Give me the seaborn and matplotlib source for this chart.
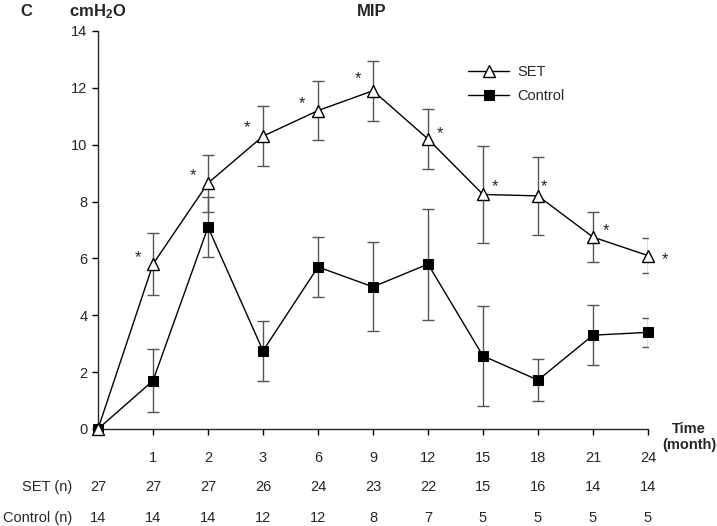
import numpy as np
import pandas as pd
import matplotlib
matplotlib.use("Agg")
import matplotlib.pyplot as plt
import matplotlib.transforms as mtransforms
import seaborn as sns

# values (MIP, cmH2O)
months = ["0", "1", "2", "3", "6", "9", "12", "15", "18", "21", "24"]
set_mean = [0, 5.8, 8.65, 10.3, 11.2, 11.9, 10.2, 8.25, 8.2, 6.75, 6.1]
set_err = [0, 1.08, 1.0, 1.05, 1.05, 1.05, 1.05, 1.7, 1.38, 0.87, 0.62]
ctrl_mean = [0, 1.7, 7.1, 2.75, 5.7, 5.0, 5.8, 2.57, 1.72, 3.3, 3.4]
ctrl_err = [0, 1.1, 1.05, 1.06, 1.05, 1.57, 1.95, 1.77, 0.74, 1.05, 0.52]
set_n = [27, 27, 27, 26, 24, 23, 22, 15, 16, 14, 14]
ctrl_n = [14, 14, 14, 12, 12, 8, 7, 5, 5, 5, 5]
# asterisk offsets (pixels) relative to the SET points
star_dx = [None, -15, -15, -16, -16, -15, 12, 12, 6, 13, 17]
star_dy = [None, 10, 11, 13, 11, 16, 9, 12, 13, 10, 0]

sns.set_style("ticks")
plt.rcParams["font.family"] = ["Liberation Sans", "DejaVu Sans"]
plt.rcParams["mathtext.fontset"] = "custom"
plt.rcParams["mathtext.rm"] = "Liberation Sans"
plt.rcParams["mathtext.bf"] = "Liberation Sans:bold"

df = pd.DataFrame({
    "pos": np.arange(len(months)),
    "SET": set_mean,
    "SET_err": set_err,
    "Control": ctrl_mean,
    "Control_err": ctrl_err,
})

fs = 10.5
W, H = 717, 526
fig = plt.figure(figsize=(W / 100, H / 100), dpi=100)
ax = fig.add_axes([98 / W, 1 - 429 / H, 550 / W, 398 / H])

err_color = "#555555"
ax.errorbar(df["pos"][1:], df["Control"][1:], yerr=df["Control_err"][1:], fmt="none",
            ecolor=err_color, elinewidth=1, capsize=4, capthick=1, zorder=2)
ax.errorbar(df["pos"][1:], df["SET"][1:], yerr=df["SET_err"][1:], fmt="none",
            ecolor=err_color, elinewidth=1, capsize=4, capthick=1, zorder=2)

sns.lineplot(data=df, x="pos", y="Control", ax=ax, color="black", linewidth=1,
             marker="s", markersize=7, markerfacecolor="black", markeredgecolor="black",
             label="Control", clip_on=False, zorder=3)
sns.lineplot(data=df, x="pos", y="SET", ax=ax, color="black", linewidth=1,
             marker="^", markersize=8, markerfacecolor="white", markeredgecolor="black",
             markeredgewidth=1, label="SET", clip_on=False, zorder=4)

for i in range(1, len(months)):
    ax.annotate("*", xy=(df["pos"][i], set_mean[i]), xytext=(star_dx[i], star_dy[i] - 4),
                textcoords="offset pixels", ha="center", va="center", fontsize=12)

ax.set_xlim(0, 10)
ax.set_ylim(0, 14)
ax.set_yticks(np.arange(0, 15, 2))
ax.set_xticks(df["pos"][1:])
ax.set_xticklabels(months[1:])
ax.tick_params(axis="both", labelsize=fs, length=4, width=1, color="black")
ax.tick_params(axis="x", pad=11.5)
ax.set_xlabel("")
ax.set_ylabel("")
sns.despine(ax=ax)
for s in ["left", "bottom"]:
    ax.spines[s].set_linewidth(1)

handles, labels = ax.get_legend_handles_labels()
ax.legend(handles[::-1], labels[::-1], loc="upper left", bbox_to_anchor=(0.673, 0.914),
          frameon=False, fontsize=fs, handlelength=2.8, handletextpad=0.6,
          labelspacing=0.65, borderaxespad=0, borderpad=0)

# n table under the axis
trans = mtransforms.blended_transform_factory(ax.transData, fig.transFigure)
for i in range(len(months)):
    ax.text(df["pos"][i], 1 - 487 / H, str(set_n[i]), transform=trans,
            ha="center", va="center", fontsize=fs)
    ax.text(df["pos"][i], 1 - 518 / H, str(ctrl_n[i]), transform=trans,
            ha="center", va="center", fontsize=fs)
fig.text(72 / W, 1 - 487 / H, "SET (n)", ha="right", va="center", fontsize=fs)
fig.text(72 / W, 1 - 518 / H, "Control (n)", ha="right", va="center", fontsize=fs)
fig.text(689 / W, 1 - 437 / H, "Time\n(month)", ha="center", va="center", fontsize=fs,
         fontweight="bold", linespacing=1.1)

fig.text(26 / W, 1 - 11 / H, "C", ha="center", va="center", fontsize=12, fontweight="bold")
fig.text(98 / W, 1 - 12 / H, r"$\mathbf{cmH_2O}$", ha="center", va="center", fontsize=12)
fig.text(372 / W, 1 - 11 / H, "MIP", ha="center", va="center", fontsize=12, fontweight="bold")

fig.savefig("out.png", dpi=100)
